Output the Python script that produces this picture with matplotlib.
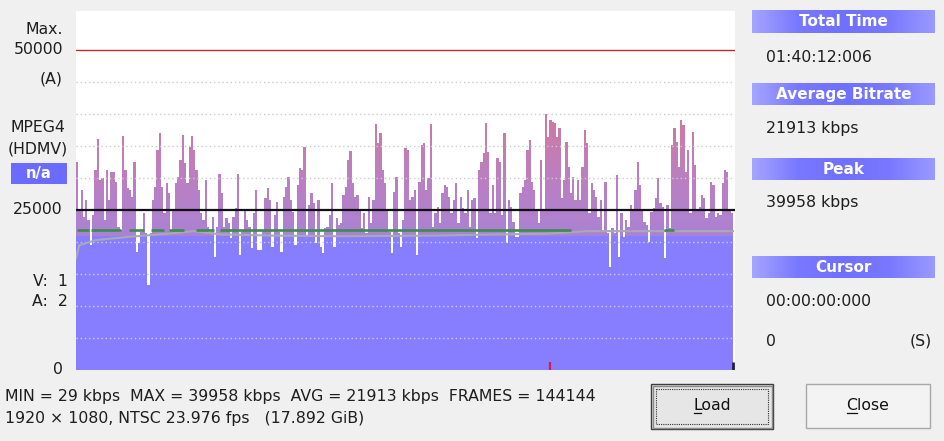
import numpy as np
import matplotlib
matplotlib.use("Agg")
import matplotlib.pyplot as plt
from matplotlib.patches import Rectangle
from matplotlib.colors import LinearSegmentedColormap

plt.rcParams['font.family'] = ['DejaVu Sans']

W, H = 945, 441

# ---------------- data ----------------
total_minutes = 100.2          # 01:40:12:006
avg_kbps = 21913
peak_kbps = 39958
ref_kbps = 25000
max_kbps = 50000
cursor_minute = 72.3

bitrate_part1 = [32550, 25000, 28130, 23960, 26560, 23440, 19530, 24220, 31250, 36040,
                 29690, 29950, 23440, 31250, 26560, 30990, 30990, 29430, 22400, 21870,
                 36560, 31250, 28390, 28130, 27080, 32550, 18490, 19790, 21610, 24480,
                 21350, 13280, 21350, 26560, 28650, 34380, 37080, 28650, 24480, 29170,
                 27600, 21870, 25000, 29170, 30210]
bitrate_part2 = [32810, 36720, 32290, 29170, 34900, 36560, 34380, 31250, 28130, 24480,
                 23440, 29690, 22400, 21610, 23960, 17710, 22400, 30630, 27600, 22400,
                 23700, 22920, 20570, 23960, 25260, 30630, 17970, 21870, 25000, 23440,
                 22400, 19010, 24480, 28130, 18750, 18750, 21870, 26820, 28390, 26560,
                 19270, 24220, 26300, 21610, 18490, 27080, 28650]
bitrate_part3 = [30210, 26560, 24740, 19530, 28900, 31510, 31250, 34900, 20830, 25780,
                 27600, 26040, 19790, 26560, 19270, 18230, 22130, 22400, 24220, 29170,
                 19270, 23700, 22660, 22920, 27340, 28650, 32810, 34270, 29170, 27080,
                 27340, 25000, 22130, 24480, 21350, 27080, 22920, 26560, 38440, 35420,
                 37080, 31250, 29170, 25000, 21610, 18230, 27870, 30210]
bitrate_part4 = [21350, 19270, 23440, 34640, 34380, 26560, 27080, 28130, 17970, 29430,
                 35160, 35420, 28130, 29950, 38440, 22400, 24480, 25520, 22920, 27600,
                 28900, 28650, 27080, 24480, 26560, 29170, 22920, 27080, 25260, 24480,
                 28130, 22400, 26560, 26820, 20570, 31250, 32550, 33850, 38650, 34120,
                 24480, 28900, 24480, 33070, 32550, 24220, 36980, 19790]
bitrate_part5 = [26560, 25520, 23180, 20830, 20830, 27600, 28650, 29690, 34380, 35940,
                 29430, 28130, 25000, 22920, 32810, 25000, 39958, 36460, 39060, 38800,
                 38540, 36460, 37760, 26820, 29690, 35680, 31770, 27600, 30210, 26560,
                 29690, 26560, 31770, 37500, 35420, 24480, 29170, 28130, 27080, 23960,
                 26560, 21870, 29430, 21350, 16150, 22130, 21350, 30470]
bitrate_part6 = [17710, 24480, 20830, 23440, 22400, 25780, 25000, 28130, 32550, 28900,
                 25000, 23180, 22660, 20050, 24740, 25260, 26820, 29950, 26040, 25520,
                 17450, 25780, 22130, 35160, 37760, 35680, 31770, 39060, 38280, 30990,
                 34380, 24480, 37240, 32030, 25000, 25520, 27340, 26820, 23700, 24480,
                 29430, 28900, 23960, 24480, 24220, 29170, 31250, 30990, 25000, 24480]

# running-average (gray) line knots
gray_minutes = [0.0, 0.5, 3.0, 8.0, 14.0, 18.0, 22.0, 30.0, 40.0, 55.0, 65.0, 72.0, 78.0, 100.2]
gray_kbps = [17500, 19500, 20300, 20800, 21300, 21700, 21200, 21000, 20900, 21000, 21200, 21300, 21700, 21700]
# green average segments (start, end) in minutes
green_segments = [(0.15, 1.98), (2.28, 6.84), (8.06, 10.34), (11.40, 13.38), (14.14, 16.42),
                  (18.25, 20.98), (21.90, 75.42), (89.71, 91.23)]
fill_split = 21000
grid_levels = [5000, 10000, 15000, 20000, 30000, 35000, 40000, 45000]

bitrate = np.array(bitrate_part1 + bitrate_part2 + bitrate_part3 +
                   bitrate_part4 + bitrate_part5 + bitrate_part6, dtype=float)
N = len(bitrate)
data_end = total_minutes
edges = np.linspace(0, data_end, N + 1)

# ---------------- figure ----------------
fig = plt.figure(figsize=(W / 100, H / 100), dpi=100, facecolor='#f0f0f0')
bg = fig.add_axes([0, 0, 1, 1])
bg.set_xlim(0, W)
bg.set_ylim(H, 0)
bg.axis('off')

L, R, T, B = 76, 735, 11, 370
ax = fig.add_axes([L / W, 1 - B / H, (R - L) / W, (B - T) / H])
ax.set_facecolor('white')
for s in ax.spines.values():
    s.set_visible(False)
ax.set_xticks([])
ax.set_yticks([])

xmax = data_end * (R - L) / (733 - L)
ymax = 56100

blue = '#877dff'
ax.stairs(np.minimum(bitrate, fill_split), edges, baseline=0, fill=True,
          color=blue, linewidth=0, zorder=2)
upper = ax.stairs(np.maximum(bitrate, fill_split), edges, baseline=fill_split, fill=True,
                  facecolor='none', edgecolor='none', linewidth=0, zorder=2)
mauve = LinearSegmentedColormap.from_list('mauve', ['#ab82d4', '#bc7fc0', '#d2789f'])
grad = np.linspace(0, 1, 256).reshape(-1, 1)
im = ax.imshow(grad, extent=[0, data_end, fill_split, peak_kbps], origin='lower',
               aspect='auto', cmap=mauve, interpolation='bilinear', zorder=2)
im.set_clip_path(upper)

for g in grid_levels:
    ax.axhline(g, color='#cccccc', lw=1.0, linestyle=(0, (1, 2)), zorder=3)

ax.plot(gray_minutes, gray_kbps, color='#a9a9b4', lw=1.5, zorder=4)
for a, b in green_segments:
    ax.plot([a, b], [avg_kbps, avg_kbps], color='#3d8b4e', lw=1.9, zorder=5,
            solid_capstyle='butt')
ax.axhline(ref_kbps, color='#111111', lw=1.6, zorder=6)
ax.axhline(max_kbps, color='#cc2a2a', lw=1.0, zorder=6)
ax.vlines(cursor_minute, 0, 1300, color='#d0204a', lw=1.6, zorder=7)
ax.vlines(data_end, 0, 1300, color='#202040', lw=2.0, zorder=7)

ax.set_xlim(0, xmax)
ax.set_ylim(0, ymax)

# ---------------- left labels ----------------
fs = 11.3
tc_ = '#1e1e1e'
def ty(v):
    return B - v * (B - 50) / max_kbps

bg.text(63, 29, 'Max.', ha='right', va='center', fontsize=fs, color=tc_)
bg.text(63, ty(max_kbps), '50000', ha='right', va='center', fontsize=fs, color=tc_)
bg.text(63, 79, '(A)', ha='right', va='center', fontsize=fs, color=tc_)
bg.text(38, 128, 'MPEG4', ha='center', va='center', fontsize=fs, color=tc_)
bg.text(38, 149, '(HDMV)', ha='center', va='center', fontsize=fs, color=tc_)
bg.add_patch(Rectangle((11, 163), 56, 21, facecolor='#6b6bff', edgecolor='none'))
bg.text(39, 173.5, 'n/a', ha='center', va='center', fontsize=10.5, color='white',
        fontweight='bold')
bg.text(63, ty(ref_kbps), '25000', ha='right', va='center', fontsize=fs, color=tc_)
bg.text(68, 281, 'V:  1', ha='right', va='center', fontsize=fs, color=tc_)
bg.text(68, 302, 'A:  2', ha='right', va='center', fontsize=fs, color=tc_)
bg.text(63, 369, '0', ha='right', va='center', fontsize=fs, color=tc_)

# ---------------- right panel ----------------
hdr_cmap = LinearSegmentedColormap.from_list('hdr', ['#a5a5ff', '#7878ff', '#7070ff', '#7878ff', '#9a9aff'])
hgrad = np.linspace(0, 1, 256).reshape(1, -1)
headers = [('Total Time', 10, 33), ('Average Bitrate', 83, 105),
           ('Peak', 158, 180), ('Cursor', 256, 278)]
for label, y0, y1 in headers:
    bg.imshow(hgrad, extent=[752, 935, y1, y0], aspect='auto', cmap=hdr_cmap,
              interpolation='bilinear', zorder=1)
    bg.text(843.5, (y0 + y1) / 2 + 0.5, label, ha='center', va='center', fontsize=11,
            color='white', fontweight='bold', zorder=2)

values = [('01:40:12:006', 57), ('21913 kbps', 128), ('39958 kbps', 202),
          ('00:00:00:000', 301), ('0', 341)]
for txt, yy in values:
    bg.text(766, yy, txt, ha='left', va='center', fontsize=fs, color=tc_)
bg.text(932, 341, '(S)', ha='right', va='center', fontsize=fs, color=tc_)

# ---------------- bottom info ----------------
bg.text(5, 396, 'MIN = 29 kbps  MAX = 39958 kbps  AVG = 21913 kbps  FRAMES = 144144',
        ha='left', va='center', fontsize=fs, color=tc_)
bg.text(5, 418, '1920 \u00d7 1080, NTSC 23.976 fps   (17.892 GiB)',
        ha='left', va='center', fontsize=fs, color=tc_)

# buttons
bg.add_patch(Rectangle((651, 384), 122, 45, facecolor='#e1e1e1', edgecolor='#3c3c3c', lw=1.0, zorder=1))
bg.add_patch(Rectangle((652.5, 385.5), 119, 42, facecolor='#e6e6e6', edgecolor='#8a8a8a', lw=1.0, zorder=1))
bg.add_patch(Rectangle((656, 389), 112, 35, facecolor='none', edgecolor='#303030', lw=0.8,
                       linestyle=(0, (1, 1)), zorder=2))
bg.add_patch(Rectangle((806, 384), 124, 44, facecolor='#f3f3f3', edgecolor='#a8a8a8', lw=1.0, zorder=1))
tl = bg.text(712, 406, 'Load', ha='center', va='center', fontsize=fs, color='#101010', zorder=3)
tc = bg.text(868, 406, 'Close', ha='center', va='center', fontsize=fs, color='#101010', zorder=3)

bg.set_xlim(0, W)
bg.set_ylim(H, 0)

fig.canvas.draw()
inv = bg.transData.inverted()
for t, first in [(tl, 'L'), (tc, 'C')]:
    bb = t.get_window_extent()
    tmp = bg.text(0, 0, first, fontsize=fs)
    fb = tmp.get_window_extent()
    tmp.remove()
    x0, yb = inv.transform((bb.x0, bb.y0))
    x1, _ = inv.transform((bb.x0 + fb.width, bb.y0))
    bg.plot([x0 + 0.5, x1 - 0.5], [yb - 1, yb - 1], color='#101010', lw=0.9, zorder=3)

bg.set_xlim(0, W)
bg.set_ylim(H, 0)
fig.savefig('out.png', dpi=100, facecolor=fig.get_facecolor())
